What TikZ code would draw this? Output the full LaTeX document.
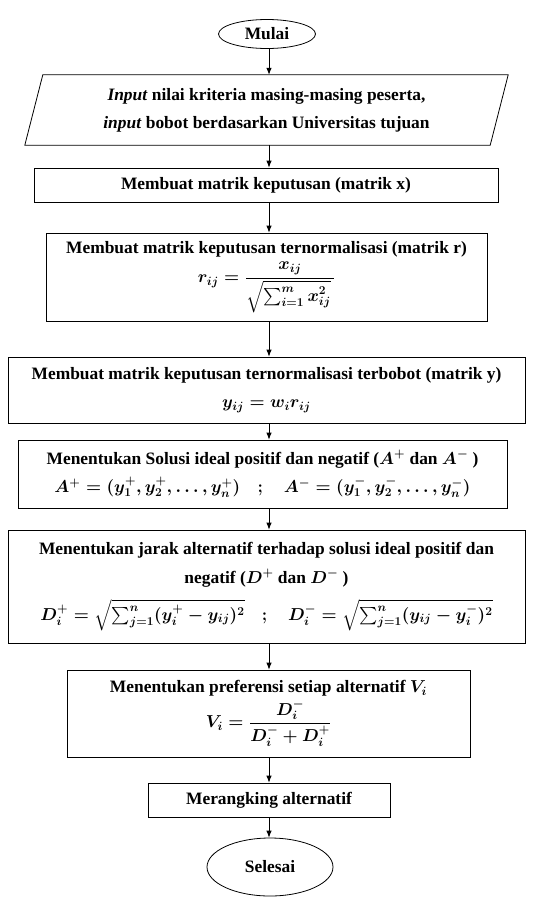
\documentclass[tikz,border=0pt]{standalone}
\usepackage{fontspec}
\setmainfont{Liberation Serif}
\usepackage{amsmath}
\usetikzlibrary{shapes.geometric,arrows.meta}
\begin{document}
\begin{tikzpicture}[x=1pt,y=-1pt,
  every node/.style={font=\fontsize{17.4}{28}\selectfont\bfseries\boldmath, align=center, inner sep=0pt},
  procbox/.style={draw, line width=0.8pt, rectangle},
  term/.style={draw, line width=0.8pt, ellipse},
  arr/.style={-{Latex[length=7pt,width=5.5pt]}, line width=0.8pt}]
\useasboundingbox (0,0) rectangle (533,897);
\coordinate (ax) at (269,0);

\node[term, minimum width=97pt, minimum height=29pt] (mulai) at (267,34) {Mulai};

\node[minimum width=483pt, minimum height=70pt] (inp) at (266.5,110)
  {\textit{Input} nilai kriteria masing-masing peserta,\\ \textit{input} bobot berdasarkan Universitas tujuan};
\draw[line width=0.8pt] ([xshift=18pt]inp.north west) -- (inp.north east)
  -- ([xshift=-18pt]inp.south east) -- (inp.south west) -- cycle;

\node[procbox, minimum width=464pt, minimum height=34pt] (b2) at (266,185)
  {Membuat matrik keputusan (matrik x)};

\node[procbox, minimum width=441pt, minimum height=88pt] (b3) at (266.5,277)
  {Membuat matrik keputusan ternormalisasi (matrik r)\\[1pt]
   $r_{ij}=\dfrac{x_{ij}}{\sqrt{\sum_{i=1}^{m}x_{ij}^{2}}\,}$};

\node[procbox, minimum width=517pt, minimum height=66pt] (b4) at (266.5,390)
  {Membuat matrik keputusan ternormalisasi terbobot (matrik y)\\
   $y_{ij}=w_i r_{ij}$};

\node[procbox, minimum width=489pt, minimum height=68pt] (b5) at (262.5,474)
  {Menentukan Solusi ideal positif dan negatif ($A^{+}$ dan $A^{-}$ )\\
   $A^{+}=(y_1^{+},y_2^{+},\dots,y_n^{+})\quad;\quad A^{-}=(y_1^{-},y_2^{-},\dots,y_n^{-})$};

\node[procbox, minimum width=517pt, minimum height=113pt] (b6) at (266.5,586.5)
  {Menentukan jarak alternatif terhadap solusi ideal positif dan\\[1pt]
   negatif ($D^{+}$ dan $D^{-}$ )\\[9pt]
   $D_i^{+}=\sqrt{\sum_{j=1}^{n}(y_i^{+}-y_{ij})^{2}}\quad;\quad D_i^{-}=\sqrt{\sum_{j=1}^{n}(y_{ij}-y_i^{-})^{2}}$};

\node[procbox, minimum width=403pt, minimum height=87pt] (b7) at (268.5,713.5)
  {Menentukan preferensi setiap alternatif $V_i$\\[2pt]
   $V_i=\dfrac{D_i^{-}}{D_i^{-}+D_i^{+}}$};

\node[procbox, minimum width=242pt, minimum height=34pt] (b8) at (269,800)
  {Merangking alternatif};

\node[term, minimum width=126pt, minimum height=58pt] (sel) at (270,867) {Selesai};

\draw[arr] (mulai.south -| ax) -- (inp.north -| ax);
\draw[arr] (inp.south -| ax) -- (b2.north -| ax);
\draw[arr] (b2.south -| ax) -- (b3.north -| ax);
\draw[arr] (b3.south -| ax) -- (b4.north -| ax);
\draw[arr] (b4.south -| ax) -- (b5.north -| ax);
\draw[arr] (b5.south -| ax) -- (b6.north -| ax);
\draw[arr] (b6.south -| ax) -- (b7.north -| ax);
\draw[arr] (b7.south -| ax) -- (b8.north -| ax);
\draw[arr] (b8.south -| ax) -- (sel.north -| ax);
\end{tikzpicture}
\end{document}
